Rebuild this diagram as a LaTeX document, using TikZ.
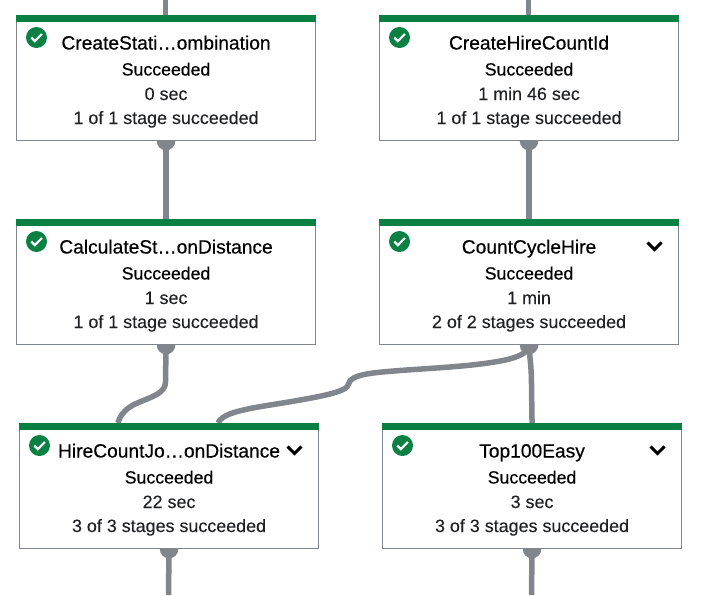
\documentclass[tikz,border=0pt]{standalone}
\usepackage{fontspec}
\setmainfont{Liberation Sans}
\newfontfamily\medfont[FakeBold=0.4]{Liberation Sans}
\newfontfamily\regfont[FakeBold=0.08]{Liberation Sans}
\usetikzlibrary{backgrounds}
\definecolor{okgreen}{HTML}{0B8043}
\definecolor{edgegrey}{HTML}{80868B}
\definecolor{inkdark}{HTML}{202124}
\tikzset{
  x=1pt,y=-1pt,
  cardbox/.style={draw=edgegrey,line width=1.1pt,fill=white,minimum width=299pt,minimum height=125pt,inner sep=0pt,anchor=north west},
  titletext/.style={font=\medfont\fontsize{19.2}{20}\selectfont,text=black,inner sep=0pt,anchor=base},
  statustext/.style={font=\medfont\fontsize{17.7}{18}\selectfont,text=black,inner sep=0pt,anchor=base},
  plaintext/.style={font=\regfont\fontsize{17.9}{18}\selectfont,text=inkdark,inner sep=0pt,anchor=base},
  flow/.style={draw=edgegrey,line width=5.5pt,line cap=butt},
  portdot/.style={fill=edgegrey,draw=none,circle,minimum size=18.5pt,inner sep=0pt},
  chev/.style={draw=black,line width=2.9pt,line cap=butt,line join=miter}
}
\newcommand{\cardnode}[7]{% id, x, y, title, status, time, stages
  \node[cardbox] (#1) at (#2,#3) {};
  \fill[okgreen] (#1.north west) rectangle ([yshift=-7pt]#1.north east);
  \node[titletext] (#1title) at ([yshift=-34.5pt]#1.north) {#4};
  \node[statustext] (#1status) at ([yshift=-60.5pt]#1.north) {#5};
  \node[plaintext] (#1time) at ([yshift=-85pt]#1.north) {#6};
  \node[plaintext] (#1stages) at ([yshift=-109pt]#1.north) {#7};
  \node[circle,fill=okgreen,minimum size=21pt,inner sep=0pt] (#1icon) at ([xshift=20.5pt,yshift=-22.5pt]#1.north west) {};
  \draw[white,line width=2.2pt] ([xshift=-5.2pt,yshift=0pt]#1icon.center) -- ([xshift=-1.6pt,yshift=-3.6pt]#1icon.center) -- ([xshift=5.4pt,yshift=3.6pt]#1icon.center);
}
\newcommand{\chevron}[1]{%
  \draw[chev] ([xshift=268.5pt,yshift=-23.5pt]#1.north west) -- ([xshift=275.5pt,yshift=-30.5pt]#1.north west) -- ([xshift=282.5pt,yshift=-23.5pt]#1.north west);
}
\begin{document}
\begin{tikzpicture}
\useasboundingbox (0,0) rectangle (711,595);
\coordinate (topa) at (165.5,0);
\coordinate (topb) at (528.5,0);
\coordinate (endc) at (168.5,595);
\coordinate (endd) at (531.5,595);
\coordinate (joinl) at (118,423);
\coordinate (joinr) at (218,423);
\cardnode{csc}{16}{15}{CreateStati…ombination}{Succeeded}{0 sec}{1 of 1 stage succeeded}
\cardnode{chc}{379}{15}{CreateHireCountId}{Succeeded}{1 min 46 sec}{1 of 1 stage succeeded}
\cardnode{csd}{16}{219}{CalculateSt…onDistance}{Succeeded}{1 sec}{1 of 1 stage succeeded}
\cardnode{cch}{379}{219}{CountCycleHire}{Succeeded}{1 min}{2 of 2 stages succeeded}
\cardnode{hcj}{19}{423}{HireCountJo…onDistance}{Succeeded}{22 sec}{3 of 3 stages succeeded}
\cardnode{top}{382}{423}{Top100Easy}{Succeeded}{3 sec}{3 of 3 stages succeeded}
\chevron{cch}\chevron{hcj}\chevron{top}
\begin{scope}[on background layer]
  \foreach \c in {csc,chc,csd,cch,hcj,top} {\node[portdot] at (\c.south) {};}
  \draw[flow] (topa) -- (csc.north -| topa);
  \draw[flow] (topb) -- (chc.north -| topb);
  \draw[flow] (csc.south) -- (csd.north);
  \draw[flow] (chc.south) -- (cch.north);
  \draw[flow] (hcj.south) -- (endc);
  \draw[flow] (top.south) -- (endd);
  \draw[flow] (csd.south) -- (165.5,382) .. controls (165.5,398) and (136,399) .. (125,411) .. controls (121,415) and (119,419) .. (joinl);
  \draw[flow] (cch.south) .. controls (528,358) and (500,362) .. (467,365.5)
     .. controls (440,368) and (420,369) .. (400,370.5)
     .. controls (375,372.5) and (350,374) .. (348.5,384)
     .. controls (348,392) and (320,397) .. (267,405.5)
     .. controls (240,410) and (222,414) .. (joinr);
  \draw[flow] (cch.south) .. controls (529,352) and (531.5,365) .. (531.5,385) -- (top.north);
\end{scope}
\end{tikzpicture}
\end{document}
